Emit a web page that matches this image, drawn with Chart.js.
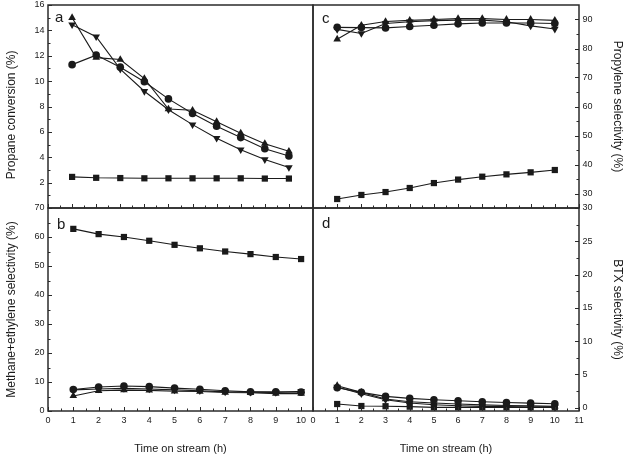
<!DOCTYPE html>
<html>
<head>
<meta charset="utf-8">
<script src="https://cdn.jsdelivr.net/npm/chart.js@4.4.1/dist/chart.umd.min.js"></script>
<style>
html, body { margin: 0; padding: 0; background: #fff; }
#wrap { position: relative; width: 629px; height: 457px; }
#wrap canvas { position: absolute; left: 0; top: 0; }
</style>
</head>
<body>
<div id="wrap">
  <canvas id="panelA" width="629" height="457"></canvas>
  <canvas id="panelB" width="629" height="457"></canvas>
  <canvas id="panelC" width="629" height="457"></canvas>
  <canvas id="panelD" width="629" height="457"></canvas>
</div>
<script>
var hours = [1, 2, 3, 4, 5, 6, 7, 8, 9, 10];

// (a) propane conversion (%)
var convSquare = [2.45, 2.38, 2.36, 2.34, 2.34, 2.34, 2.34, 2.34, 2.32, 2.32];
var convCircle = [11.3, 12.05, 11.1, 9.95, 8.6, 7.45, 6.45, 5.55, 4.67, 4.1];
var convUp = [15.0, 11.85, 11.7, 10.2, 7.8, 7.7, 6.8, 5.9, 5.07, 4.47];
var convDown = [14.45, 13.5, 10.95, 9.2, 7.75, 6.57, 5.5, 4.6, 3.82, 3.2];

// (b) methane + ethylene selectivity (%)
var crackSquare = [62.8, 61.0, 60.0, 58.7, 57.3, 56.1, 55.0, 54.1, 53.1, 52.4];
var crackCircle = [7.4, 8.3, 8.6, 8.4, 7.9, 7.5, 7.0, 6.6, 6.6, 6.5];
var crackUp = [5.2, 7.0, 7.2, 7.1, 6.8, 6.7, 6.4, 6.3, 6.0, 6.0];
var crackDown = [7.3, 7.6, 7.8, 7.6, 7.3, 7.0, 6.6, 6.5, 6.4, 6.8];

// (c) propylene selectivity (%)
var propSquare = [28.1, 29.5, 30.5, 31.9, 33.6, 34.8, 35.8, 36.6, 37.3, 38.1];
var propCircle = [87.3, 87.2, 87.1, 87.6, 88.0, 88.5, 88.8, 88.8, 88.8, 88.6];
var propUp = [83.2, 88.0, 89.3, 89.7, 90.0, 90.3, 90.3, 90.0, 90.0, 89.7];
var propDown = [86.6, 85.2, 88.6, 89.2, 89.6, 89.8, 89.8, 89.2, 87.8, 86.7];

// (d) BTX selectivity (%)
var btxSquare = [0.55, 0.25, 0.22, 0.15, 0.05, 0.05, 0.05, 0.05, 0.05, 0.05];
var btxCircle = [3.0, 2.3, 1.7, 1.4, 1.2, 1.05, 0.9, 0.78, 0.68, 0.6];
var btxUp = [3.3, 2.3, 1.3, 0.9, 0.7, 0.55, 0.42, 0.32, 0.27, 0.2];
var btxDown = [3.1, 2.1, 1.2, 0.7, 0.45, 0.3, 0.2, 0.15, 0.1, 0.1];

// tick labels
var xTicksWide = [0, 1, 2, 3, 4, 5, 6, 7, 8, 9, 10, 11];
var xTicksB = [0, 1, 2, 3, 4, 5, 6, 7, 8, 9, 10];
var yTicksA = [2, 4, 6, 8, 10, 12, 14, 16];
var yTicksB = [0, 10, 20, 30, 40, 50, 60, 70];
var yTicksC = [30, 40, 50, 60, 70, 80, 90];
var yTicksD = [0, 5, 10, 15, 20, 25, 30];

var ink = '#1a1a1a';
var fontFam = '"Liberation Sans", Arial, sans-serif';
var markers = ['rect', 'circle', 'triangle', 'triangle'];
var markerRot = [0, 0, 0, 180];
var markerSize = [4.4, 3.8, 4.4, 4.4];

// frame, inward tick marks and panel letter
var panelDecor = {
  id: 'panelDecor',
  afterDraw: function (chart) {
    var o = chart.options.plugins.panelDecor;
    var a = chart.chartArea;
    var ctx = chart.ctx;
    ctx.save();
    ctx.strokeStyle = '#2b2b2b';
    ctx.lineWidth = 1;
    ['x', 'y'].forEach(function (id) {
      var s = chart.scales[id];
      var major = o[id + 'Major'];
      var minor = [];
      for (var i = 0; i < major.length - 1; i++) minor.push((major[i] + major[i + 1]) / 2);
      var step = major[1] - major[0];
      if (major[0] - step / 2 > s.min) minor.push(major[0] - step / 2);
      if (major[major.length - 1] + step / 2 < s.max) minor.push(major[major.length - 1] + step / 2);
      ctx.beginPath();
      [[major, 4], [minor, 2.5]].forEach(function (set) {
        set[0].forEach(function (v) {
          var p = Math.round(s.getPixelForValue(v)) + 0.5;
          if (id === 'x') {
            ctx.moveTo(p, a.bottom); ctx.lineTo(p, a.bottom - set[1]);
          } else if (s.position === 'left') {
            ctx.moveTo(a.left, p); ctx.lineTo(a.left + set[1], p);
          } else {
            ctx.moveTo(a.right, p); ctx.lineTo(a.right - set[1], p);
          }
        });
      });
      ctx.stroke();
    });
    ctx.lineWidth = 1.5;
    ctx.strokeRect(a.left, a.top, a.right - a.left, a.bottom - a.top);
    ctx.fillStyle = ink;
    ctx.font = '15px ' + fontFam;
    ctx.textBaseline = 'alphabetic';
    ctx.fillText(o.letter, a.left + o.letterDx, a.top + o.letterDy);
    ctx.restore();
  }
};

function makePanel(id, p) {
  var datasets = p.series.map(function (vals, i) {
    return {
      data: hours.map(function (h, j) { return { x: h, y: vals[j] }; }),
      borderColor: ink,
      borderWidth: 1.1,
      backgroundColor: ink,
      pointStyle: markers[i],
      pointRotation: markerRot[i],
      pointRadius: markerSize[i],
      pointBorderWidth: 0,
      pointBackgroundColor: ink,
      tension: 0,
      clip: false
    };
  });
  var fixBox = function (size, isX) {
    return function (s) {
      if (isX) s.height = size; else s.width = size;
      s.paddingLeft = 0; s.paddingRight = 0; s.paddingTop = 0; s.paddingBottom = 0;
    };
  };
  new Chart(document.getElementById(id), {
    type: 'line',
    data: { datasets: datasets },
    options: {
      responsive: false,
      animation: false,
      events: [],
      layout: { padding: p.pad },
      plugins: {
        legend: { display: false },
        tooltip: { enabled: false },
        panelDecor: { letter: p.letter, letterDx: p.letterDx, letterDy: p.letterDy, xMajor: p.xTicks, yMajor: p.yTicks }
      },
      scales: {
        x: {
          type: 'linear',
          position: 'bottom',
          min: 0,
          max: p.xMax,
          grid: { display: false, drawTicks: false },
          border: { display: false },
          afterBuildTicks: function (s) { s.ticks = p.xTicks.map(function (v) { return { value: v }; }); },
          afterFit: fixBox(p.xH, true),
          ticks: {
            display: p.showX,
            autoSkip: false,
            maxRotation: 0,
            padding: 4,
            color: ink,
            font: { family: fontFam, size: 9 }
          },
          title: {
            display: p.showX,
            text: 'Time on stream (h)',
            color: ink,
            font: { family: fontFam, size: 11 },
            padding: { top: 4, bottom: 1 }
          }
        },
        y: {
          type: 'linear',
          position: p.yPos,
          min: p.yMin,
          max: p.yMax,
          grid: { display: false, drawTicks: false },
          border: { display: false },
          afterBuildTicks: function (s) { s.ticks = p.yTicks.map(function (v) { return { value: v }; }); },
          afterFit: fixBox(p.yW, false),
          ticks: {
            autoSkip: false,
            padding: 3.5,
            color: ink,
            font: { family: fontFam, size: 9 }
          },
          title: {
            display: true,
            text: p.yTitle,
            color: ink,
            font: { family: fontFam, size: 12 },
            padding: { top: 4, bottom: 4 }
          }
        }
      }
    },
    plugins: [panelDecor]
  });
}

makePanel('panelA', {
  series: [convSquare, convCircle, convUp, convDown],
  letter: 'a', letterDx: 7, letterDy: 17,
  pad: { left: 0, top: 5, right: 316, bottom: 0 },
  xMax: 11, xTicks: xTicksWide, xH: 249, showX: false,
  yPos: 'left', yMin: 0, yMax: 16, yTicks: yTicksA, yW: 48,
  yTitle: 'Propane conversion (%)     '
});
makePanel('panelB', {
  series: [crackSquare, crackCircle, crackUp, crackDown],
  letter: 'b', letterDx: 9, letterDy: 21,
  pad: { left: 0, top: 208, right: 316, bottom: 0 },
  xMax: 10.47, xTicks: xTicksB, xH: 46, showX: true,
  yPos: 'left', yMin: 0, yMax: 70, yTicks: yTicksB, yW: 48,
  yTitle: 'Methane+ethylene selectivity (%)'
});
makePanel('panelC', {
  series: [propSquare, propCircle, propUp, propDown],
  letter: 'c', letterDx: 9, letterDy: 18,
  pad: { left: 313, top: 5, right: 0, bottom: 0 },
  xMax: 11, xTicks: xTicksWide, xH: 249, showX: false,
  yPos: 'right', yMin: 25, yMax: 95, yTicks: yTicksC, yW: 50,
  yTitle: 'Propylene selectivity (%)'
});
makePanel('panelD', {
  series: [btxSquare, btxCircle, btxUp, btxDown],
  letter: 'd', letterDx: 9, letterDy: 20,
  pad: { left: 313, top: 208, right: 0, bottom: 0 },
  xMax: 11, xTicks: xTicksWide, xH: 46, showX: true,
  yPos: 'right', yMin: -0.5, yMax: 30, yTicks: yTicksD, yW: 50,
  yTitle: 'BTX selectivity (%)'
});
</script>
</body>
</html>
